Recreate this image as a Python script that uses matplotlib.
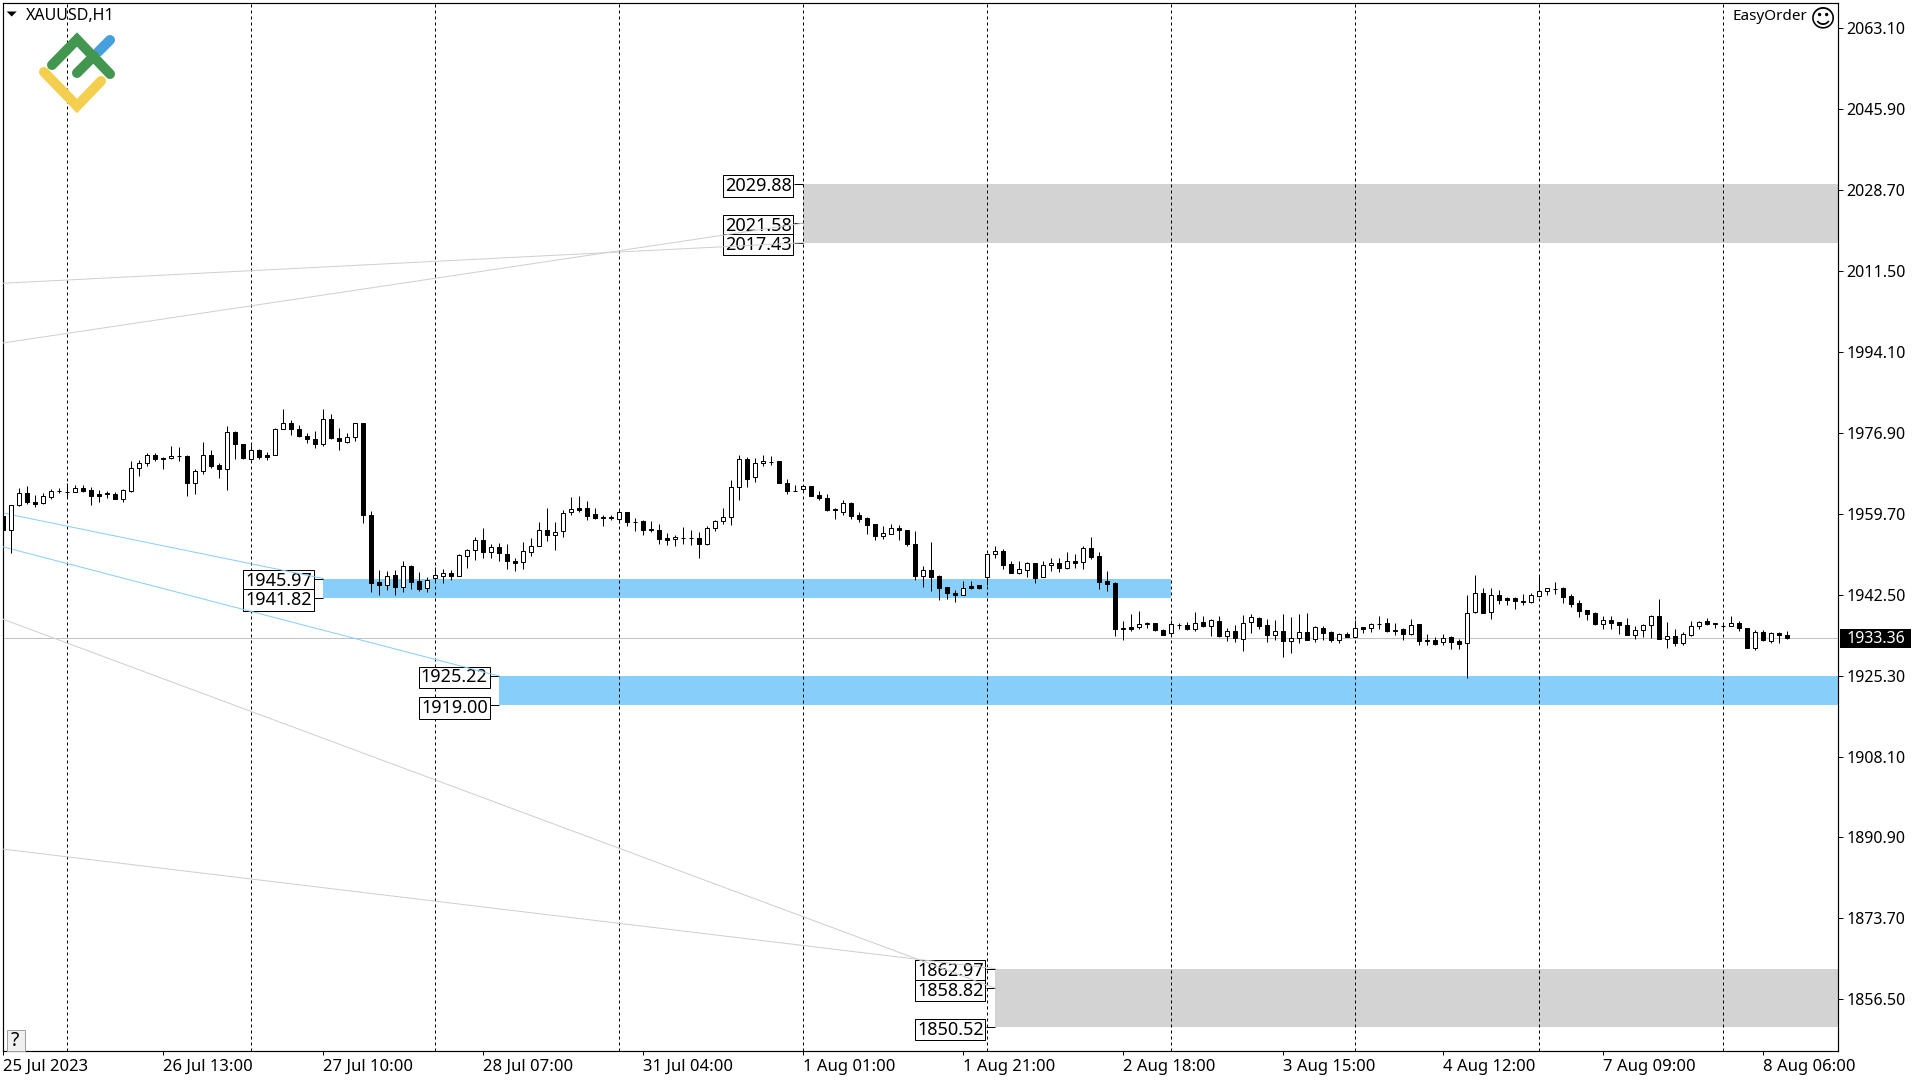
import matplotlib
matplotlib.use("Agg")
import matplotlib.pyplot as plt
from matplotlib.lines import Line2D
from matplotlib.patches import Polygon, Rectangle

plt.rcParams['font.family'] = ['Noto Sans', 'DejaVu Sans']

opens = [
    1959.3, 1956.2, 1961.7, 1964.1, 1962.3, 1962.0, 1963.4, 1964.6, 1964.4, 1964.4,
    1965.2, 1964.8, 1963.9, 1964.2, 1963.9, 1962.9, 1964.7, 1969.5, 1970.5, 1972.2,
    1971.6, 1971.6, 1972.0, 1972.1, 1966.4, 1968.8, 1972.2, 1970.1, 1969.2, 1977.1,
    1974.6, 1971.4, 1973.3, 1972.2, 1972.2, 1977.8, 1979.0, 1977.8, 1976.3, 1975.6,
    1974.7, 1979.9, 1975.8, 1975.1, 1976.1, 1979.0, 1959.5, 1945.2, 1944.5, 1946.7,
    1944.1, 1948.7, 1945.4, 1943.9, 1946.0, 1946.6, 1947.1, 1946.6, 1950.7, 1952.0,
    1954.1, 1951.7, 1952.6, 1951.1, 1949.6, 1949.4, 1951.7, 1953.0, 1956.4, 1955.3,
    1956.0, 1960.1, 1960.9, 1960.9, 1959.6, 1959.0, 1958.9, 1958.7, 1960.1, 1958.1,
    1958.2, 1956.5, 1956.4, 1954.5, 1954.3, 1954.7, 1954.7, 1954.7, 1953.4, 1956.7,
    1958.3, 1959.0, 1965.4, 1971.5, 1967.5, 1970.5, 1970.7, 1970.9, 1966.4, 1964.7,
    1965.1, 1965.6, 1963.7, 1963.2, 1960.8, 1960.2, 1962.0, 1959.4, 1958.8, 1957.5,
    1955.1, 1955.5, 1956.7, 1956.2, 1953.4, 1946.6, 1947.7, 1946.5, 1944.1, 1943.0,
    1942.5, 1944.3, 1944.5, 1946.3, 1951.1, 1951.9, 1949.0, 1947.2, 1947.8, 1949.2,
    1946.2, 1948.8, 1949.2, 1948.3, 1949.6, 1949.4, 1952.4, 1950.7, 1945.4, 1945.1,
    1935.3, 1935.6, 1935.6, 1936.4, 1936.5, 1935.1, 1934.4, 1936.0, 1936.0, 1935.3,
    1936.7, 1935.9, 1936.9, 1933.8, 1934.9, 1933.2, 1936.8, 1937.5, 1936.0, 1934.0,
    1934.9, 1932.7, 1933.4, 1934.7, 1933.2, 1935.4, 1934.7, 1932.9, 1934.1, 1933.6,
    1935.6, 1935.5, 1936.3, 1936.5, 1935.1, 1935.2, 1934.2, 1936.2, 1932.7, 1932.8,
    1932.4, 1933.5, 1932.6, 1932.2, 1938.8, 1943.0, 1938.8, 1942.4, 1941.8, 1941.8,
    1941.2, 1941.0, 1942.2, 1943.4, 1943.7, 1943.9, 1942.2, 1940.7, 1939.2, 1938.7,
    1936.4, 1937.1, 1936.7, 1936.0, 1934.0, 1935.1, 1936.0, 1937.9, 1933.2, 1933.7,
    1932.3, 1934.0, 1935.8, 1936.9, 1936.4, 1935.9, 1935.9, 1936.6, 1935.4, 1931.2,
    1934.7, 1932.7, 1934.3, 1933.9,
]
highs = [
    1961.0, 1961.7, 1965.2, 1965.7, 1963.8, 1964.1, 1965.0, 1965.2, 1966.3, 1965.9,
    1965.8, 1965.4, 1964.9, 1964.7, 1964.3, 1965.1, 1971.0, 1971.2, 1972.7, 1972.6,
    1971.9, 1974.2, 1974.0, 1972.2, 1969.2, 1975.1, 1973.4, 1970.5, 1978.5, 1977.4,
    1974.6, 1974.4, 1973.5, 1973.0, 1978.1, 1982.1, 1979.6, 1978.7, 1977.0, 1977.4,
    1982.1, 1981.0, 1978.0, 1976.9, 1979.0, 1979.1, 1960.4, 1947.8, 1947.5, 1947.7,
    1949.7, 1948.9, 1947.3, 1946.4, 1948.5, 1948.1, 1947.8, 1951.2, 1952.3, 1954.9,
    1956.7, 1953.3, 1953.5, 1953.3, 1950.3, 1953.7, 1954.6, 1958.0, 1961.0, 1958.0,
    1960.6, 1963.3, 1963.5, 1962.5, 1961.0, 1959.5, 1959.5, 1960.6, 1960.1, 1958.8,
    1958.4, 1958.2, 1957.6, 1955.6, 1955.2, 1956.9, 1956.3, 1955.9, 1957.1, 1958.4,
    1961.0, 1966.9, 1972.3, 1971.8, 1971.7, 1972.3, 1972.0, 1970.9, 1967.1, 1965.9,
    1965.9, 1965.7, 1964.6, 1963.9, 1961.0, 1962.7, 1962.2, 1960.1, 1959.0, 1957.6,
    1957.1, 1957.6, 1957.3, 1956.4, 1956.1, 1948.6, 1953.7, 1946.8, 1944.2, 1943.5,
    1945.4, 1945.4, 1944.7, 1951.2, 1952.8, 1952.2, 1949.6, 1949.6, 1949.5, 1949.3,
    1949.8, 1950.3, 1950.3, 1951.6, 1951.2, 1952.8, 1954.8, 1951.7, 1947.6, 1945.2,
    1936.9, 1938.4, 1939.0, 1936.7, 1936.6, 1935.3, 1937.1, 1936.6, 1936.8, 1938.8,
    1937.9, 1937.4, 1937.9, 1935.4, 1936.1, 1938.2, 1938.4, 1937.7, 1937.3, 1937.1,
    1938.4, 1937.8, 1938.4, 1938.6, 1935.8, 1935.8, 1934.8, 1934.4, 1934.5, 1937.1,
    1935.6, 1936.5, 1938.0, 1937.5, 1936.5, 1935.5, 1937.3, 1936.3, 1934.1, 1933.5,
    1934.2, 1933.7, 1933.1, 1942.5, 1946.7, 1943.9, 1943.9, 1943.5, 1942.0, 1942.0,
    1942.7, 1943.0, 1946.5, 1943.9, 1945.2, 1944.1, 1942.6, 1941.5, 1939.3, 1938.8,
    1938.1, 1938.0, 1936.8, 1937.6, 1935.9, 1936.4, 1938.2, 1941.6, 1936.7, 1935.2,
    1934.7, 1936.9, 1937.0, 1937.6, 1936.5, 1936.4, 1938.0, 1937.0, 1935.5, 1935.0,
    1935.1, 1934.6, 1934.7, 1934.8,
]
lows = [
    1955.8, 1951.5, 1961.5, 1961.9, 1961.1, 1961.9, 1963.0, 1964.1, 1963.4, 1964.3,
    1964.4, 1961.7, 1962.2, 1963.1, 1962.8, 1962.2, 1964.3, 1967.8, 1970.0, 1971.0,
    1969.3, 1971.4, 1971.0, 1963.6, 1964.0, 1968.3, 1969.5, 1967.4, 1964.9, 1971.5,
    1971.4, 1971.2, 1971.4, 1971.1, 1972.2, 1977.8, 1976.6, 1976.1, 1974.9, 1973.7,
    1974.1, 1975.6, 1973.4, 1974.9, 1975.3, 1957.7, 1943.1, 1942.5, 1943.6, 1942.4,
    1943.1, 1943.8, 1943.4, 1943.2, 1945.7, 1945.1, 1945.7, 1946.5, 1948.3, 1950.0,
    1950.4, 1950.4, 1949.8, 1948.1, 1947.6, 1948.1, 1950.8, 1953.0, 1953.9, 1952.0,
    1954.9, 1959.5, 1960.2, 1958.4, 1958.6, 1957.1, 1958.4, 1957.7, 1957.1, 1956.1,
    1955.2, 1955.9, 1953.3, 1953.1, 1952.9, 1953.3, 1953.1, 1950.4, 1953.2, 1956.1,
    1957.6, 1957.4, 1962.7, 1965.5, 1966.5, 1970.0, 1970.1, 1966.2, 1963.9, 1964.5,
    1964.5, 1963.5, 1962.7, 1960.3, 1958.6, 1959.5, 1958.6, 1958.0, 1955.4, 1954.2,
    1954.4, 1955.5, 1954.2, 1953.0, 1945.7, 1944.2, 1943.3, 1941.3, 1941.7, 1941.0,
    1942.4, 1943.7, 1943.8, 1944.6, 1950.4, 1948.0, 1947.2, 1947.0, 1946.3, 1945.1,
    1946.2, 1947.6, 1947.3, 1948.0, 1948.3, 1948.0, 1950.2, 1943.8, 1943.4, 1933.8,
    1932.9, 1934.9, 1935.3, 1935.4, 1934.9, 1933.9, 1933.9, 1935.2, 1935.0, 1934.8,
    1935.6, 1933.7, 1933.5, 1932.7, 1932.5, 1930.6, 1934.4, 1935.3, 1932.4, 1932.9,
    1929.2, 1930.1, 1932.2, 1932.8, 1932.4, 1932.9, 1932.4, 1932.2, 1933.5, 1933.4,
    1934.4, 1934.6, 1935.3, 1934.6, 1933.9, 1932.9, 1934.0, 1931.8, 1931.8, 1931.9,
    1931.9, 1931.0, 1931.0, 1924.9, 1938.7, 1938.7, 1937.3, 1940.5, 1940.3, 1939.5,
    1940.4, 1940.8, 1942.0, 1942.5, 1942.7, 1940.8, 1940.0, 1937.8, 1937.1, 1936.0,
    1935.2, 1935.2, 1934.2, 1933.9, 1933.2, 1933.5, 1933.3, 1933.2, 1931.2, 1931.6,
    1931.8, 1933.7, 1935.3, 1936.1, 1935.4, 1935.4, 1935.9, 1934.9, 1931.2, 1930.8,
    1932.7, 1932.3, 1932.3, 1933.1,
]
closes = [
    1956.2, 1961.7, 1964.1, 1962.2, 1961.9, 1963.5, 1964.6, 1964.6, 1964.4, 1965.2,
    1964.7, 1963.6, 1963.6, 1963.9, 1962.9, 1964.8, 1969.5, 1970.5, 1972.2, 1971.3,
    1971.4, 1972.0, 1972.1, 1966.4, 1968.8, 1972.2, 1970.0, 1969.2, 1977.1, 1974.5,
    1971.7, 1973.3, 1971.9, 1971.9, 1977.8, 1979.0, 1977.7, 1976.2, 1975.6, 1974.7,
    1979.9, 1975.8, 1975.3, 1976.1, 1979.0, 1959.4, 1945.1, 1944.5, 1946.6, 1944.1,
    1948.6, 1945.3, 1943.8, 1945.6, 1946.7, 1947.1, 1946.6, 1951.0, 1952.0, 1954.1,
    1951.7, 1952.6, 1951.3, 1949.6, 1949.3, 1951.8, 1953.0, 1956.4, 1955.3, 1955.8,
    1960.0, 1960.7, 1960.6, 1959.3, 1958.9, 1958.8, 1959.0, 1960.1, 1957.9, 1957.9,
    1956.4, 1956.3, 1954.4, 1954.2, 1954.9, 1954.7, 1954.7, 1953.4, 1956.7, 1958.3,
    1959.0, 1965.4, 1971.5, 1967.2, 1970.5, 1970.9, 1970.8, 1966.2, 1964.5, 1964.5,
    1965.6, 1963.5, 1963.2, 1960.6, 1960.5, 1962.0, 1959.3, 1958.7, 1957.4, 1955.1,
    1955.6, 1956.7, 1956.2, 1953.4, 1946.6, 1947.7, 1946.4, 1944.0, 1943.0, 1942.5,
    1944.0, 1944.0, 1943.9, 1951.1, 1951.9, 1948.9, 1947.2, 1948.1, 1949.2, 1946.1,
    1948.8, 1949.2, 1948.3, 1949.6, 1949.3, 1952.4, 1950.6, 1945.3, 1944.9, 1935.3,
    1935.4, 1935.2, 1936.4, 1936.5, 1935.0, 1934.0, 1936.2, 1936.1, 1935.2, 1936.6,
    1935.8, 1937.1, 1933.7, 1934.9, 1933.3, 1936.6, 1937.7, 1935.9, 1934.0, 1934.9,
    1932.7, 1933.4, 1934.7, 1932.9, 1935.6, 1934.4, 1932.9, 1934.1, 1933.6, 1935.4,
    1935.3, 1936.4, 1936.4, 1934.8, 1934.9, 1934.1, 1936.0, 1932.7, 1932.8, 1932.0,
    1933.4, 1932.5, 1932.1, 1938.7, 1942.8, 1938.7, 1942.4, 1941.5, 1941.5, 1941.2,
    1941.0, 1942.4, 1943.4, 1943.9, 1943.8, 1942.1, 1940.6, 1939.1, 1938.5, 1936.4,
    1937.1, 1936.6, 1936.0, 1934.0, 1935.1, 1936.0, 1937.9, 1933.2, 1933.7, 1932.3,
    1934.1, 1935.8, 1936.8, 1936.4, 1936.5, 1935.9, 1936.6, 1935.4, 1931.2, 1934.7,
    1932.8, 1934.3, 1933.9, 1933.36,
]

y_ticks = [2063.10, 2045.90, 2028.70, 2011.50, 1994.10, 1976.90, 1959.70,
           1942.50, 1925.30, 1908.10, 1890.90, 1873.70, 1856.50]
x_ticks = [0, 20, 40, 60, 80, 100, 120, 140, 160, 180, 200, 220]
x_labels = ['25 Jul 2023', '26 Jul 13:00', '27 Jul 10:00', '28 Jul 07:00',
            '31 Jul 04:00', '1 Aug 01:00', '1 Aug 21:00', '2 Aug 18:00',
            '3 Aug 15:00', '4 Aug 12:00', '7 Aug 09:00', '8 Aug 06:00']
period_seps = [8, 31, 54, 77, 100, 123, 146, 169, 192, 215]
last_price = 1933.36

# zones: first bar, last bar (None = to the right edge), top, bottom
blue_zones = [(40, 146, 1945.97, 1941.82), (62, None, 1925.22, 1919.00)]
grey_zones = [(100, None, 2029.88, 2017.43), (124, None, 1862.97, 1850.52)]

# price tags: anchor bar, price, shift of the box in pixels
tag_bars = [100, 100, 100, 40, 40, 62, 62, 124, 124, 124]
tag_prices = [2029.88, 2021.58, 2017.43, 1945.97, 1941.82,
              1925.22, 1919.00, 1862.97, 1858.82, 1850.52]
tag_shift = [-2, -2.5, -2, -2, -2, -1.3, -2.8, -2, -2.4, -2.5]

# thin trend lines: start bar, start price, end bar, end price
blue_lines = [(0, 1959.9, 40, 1945.97), (0, 1952.7, 62, 1925.22)]
grey_lines = [(0, 1996.1, 100, 2021.58), (0, 2008.8, 100, 2017.43),
              (0, 1937.3, 124, 1858.82), (0, 1888.4, 124, 1862.97)]

W, H = 1920, 1080
LW = 0.72  # one pixel at 100 dpi
XMIN, XMAX = -0.1, 229.34
YMIN, YMAX = 1845.45, 2068.53


def px(x, y):
    return x / W, 1 - y / H


fig = plt.figure(figsize=(19.2, 10.8), dpi=100, facecolor='white')
ax = fig.add_axes([2.5 / W, 1 - 1051 / H, (1838 - 2.5) / W, (1051 - 2.5) / H])
ax.set_xlim(XMIN, XMAX)
ax.set_ylim(YMIN, YMAX)

for x0, x1, top, bottom in blue_zones:
    ax.fill_between([x0, XMAX if x1 is None else x1], bottom, top, color='#87CEFA', lw=0, zorder=1)
for x0, x1, top, bottom in grey_zones:
    ax.fill_between([x0, XMAX if x1 is None else x1], bottom, top, color='#D3D3D3', lw=0, zorder=1)

for x in period_seps:
    ax.axvline(x, color='black', lw=LW, ls=(0, (3, 3)), zorder=1.5)
ax.axhline(last_price, color='#C0C0C0', lw=LW, zorder=1.5)

# price tags with their little connector
for bar, price, shift in zip(tag_bars, tag_prices, tag_shift):
    ax.plot([bar - 1.2, bar], [price, price], color='black', lw=LW, zorder=2, solid_capstyle='butt')
    ax.annotate(f'{price:.2f}', xy=(bar - 1.2, price), xytext=(-2, shift), textcoords='offset pixels',
                ha='right', va='center', fontsize=13, color='black', zorder=2.2,
                bbox=dict(boxstyle='square,pad=0.1', fc='white', ec='black', lw=LW))

for x0, p0, x1, p1 in blue_lines:
    ax.plot([x0, x1], [p0, p1], color='#87CEFA', lw=LW, zorder=3)
for x0, p0, x1, p1 in grey_lines:
    ax.plot([x0, x1], [p0, p1], color='#CFCFCF', lw=LW, zorder=3)

# candles
bars = list(range(len(opens)))
ax.vlines(bars, lows, highs, color='black', lw=LW, zorder=3.5)
body_low = [min(o, c) for o, c in zip(opens, closes)]
body_h = [abs(o - c) for o, c in zip(opens, closes)]
face = ['white' if c > o else 'black' for o, c in zip(opens, closes)]
ax.bar(bars, body_h, bottom=body_low, width=0.5, color=face, edgecolor='black', lw=LW, zorder=4)

# axes and ticks
for s in ax.spines.values():
    s.set_linewidth(0.85)
ax.yaxis.tick_right()
ax.set_yticks(y_ticks, [f'{v:.2f}' for v in y_ticks])
ax.set_xticks(x_ticks, x_labels, ha='left')
ax.tick_params(axis='y', length=3.6, width=LW, pad=2.4, labelsize=11.5)
ax.tick_params(axis='x', length=2.6, width=LW, pad=3, labelsize=12)

# last price flag
fig.add_artist(Rectangle(px(1840, 648), 71 / W, 19 / H, transform=fig.transFigure, fc='black', ec='none'))
fig.text(*px(1846.7, 639), f'{last_price:.2f}', color='white', fontsize=11.5, ha='left', va='center')

# top left symbol and top right expert name
fig.add_artist(Polygon([px(6.7, 11.5), px(16.7, 11.5), px(11.7, 16.5)], transform=fig.transFigure, fc='black', ec='none'))
fig.text(*px(26, 16), 'XAUUSD,H1', fontsize=11.5, ha='left', va='center')
fig.text(*px(1733, 17), 'EasyOrder', fontsize=11, ha='left', va='center')
fig.text(*px(1823, 19.5), '\u263A', fontsize=18, family='DejaVu Sans', ha='center', va='center')

# help button
fig.add_artist(Rectangle(px(6.5, 1051), 18 / W, 21 / H, transform=fig.transFigure, fc='#F0F0F0', ec='#A0A0A0', lw=LW))
fig.text(*px(15, 1041), '?', fontsize=14, ha='center', va='center')

# logo
logo = [
    ('#45A0DD', [(98, 52), (110, 40)]),
    ('#43964F', [(77, 73), (94, 56)]),
    ('#43964F', [(52, 65), (77, 39.5), (110, 74)]),
    ('#F4CE4E', [(44, 72), (77, 106), (101, 81)]),
]
for color, pts in logo:
    xs, ys = zip(*[px(*p) for p in pts])
    fig.add_artist(Line2D(xs, ys, color=color, lw=7.2, transform=fig.transFigure,
                          solid_capstyle='round', solid_joinstyle='miter'))

fig.savefig('out.png', dpi=100)
